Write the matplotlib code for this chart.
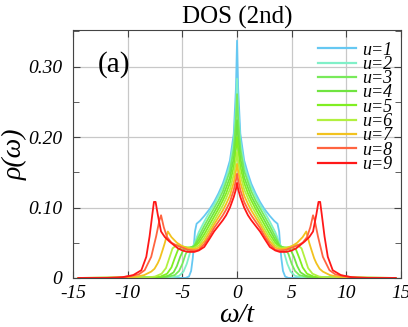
import numpy as np
import matplotlib
matplotlib.use("Agg")
import matplotlib.pyplot as plt
from matplotlib.ticker import MultipleLocator, FuncFormatter

plt.rcParams['font.family'] = ['Liberation Serif', 'DejaVu Serif']
plt.rcParams['font.style'] = 'italic'
plt.rcParams['axes.unicode_minus'] = False

# DOS is symmetric in omega, so only the omega >= 0 half is listed
w_u1 = [0, 0.1, 0.3, 0.65, 1.0, 1.3, 1.7, 2.1, 2.5, 3.0, 3.4, 3.7, 3.85, 3.95, 4.05, 4.2, 4.4, 4.7, 14.5]
rho_u1 = [0.337, 0.27, 0.205, 0.167, 0.148, 0.134, 0.120, 0.108, 0.098, 0.088, 0.081, 0.077,
          0.066, 0.045, 0.028, 0.010, 0.002, 0.0, 0.0]

# shared inner grid for u=2..9
w_inner = [0, 0.1, 0.3, 0.65, 1.0, 1.3, 1.7, 2.1, 2.5, 3.0, 3.5, 3.9]
rho_inner = {
    2: [0.283, 0.240, 0.194, 0.160, 0.142, 0.129, 0.116, 0.104, 0.094, 0.080, 0.065, 0.049],
    3: [0.261, 0.225, 0.183, 0.152, 0.136, 0.123, 0.110, 0.099, 0.088, 0.074, 0.059, 0.046],
    4: [0.224, 0.200, 0.170, 0.143, 0.128, 0.116, 0.104, 0.093, 0.082, 0.068, 0.054, 0.045],
    5: [0.200, 0.183, 0.158, 0.135, 0.120, 0.110, 0.098, 0.087, 0.076, 0.062, 0.050, 0.044],
    6: [0.179, 0.166, 0.147, 0.126, 0.113, 0.103, 0.092, 0.081, 0.070, 0.057, 0.046, 0.043],
    7: [0.162, 0.152, 0.136, 0.117, 0.105, 0.096, 0.086, 0.076, 0.065, 0.052, 0.043, 0.041],
    8: [0.148, 0.139, 0.125, 0.108, 0.097, 0.089, 0.080, 0.071, 0.060, 0.048, 0.040, 0.039],
    9: [0.135, 0.126, 0.115, 0.100, 0.089, 0.082, 0.074, 0.066, 0.056, 0.044, 0.039, 0.037],
}
# outer part (band edge / Hubbard-like peaks) for u=2..9
w_outer = {
    2: [4.0, 4.3, 4.6, 4.9, 5.3, 6.0, 14.5],
    3: [4.0, 4.4, 4.7, 5.0, 5.3, 5.7, 6.5, 14.5],
    4: [4.0, 4.5, 4.9, 5.2, 5.5, 5.8, 6.3, 7.0, 14.5],
    5: [4.0, 4.5, 5.0, 5.4, 5.7, 6.0, 6.4, 7.0, 8.0, 14.5],
    6: [4.0, 4.5, 5.0, 5.5, 5.9, 6.2, 6.5, 6.9, 7.5, 8.5, 14.5],
    7: [4.0, 4.5, 5.0, 5.5, 6.0, 6.33, 6.6, 6.8, 7.05, 7.25, 7.55, 7.85, 8.5, 9.5, 14.5],
    8: [4.0, 4.5, 5.0, 5.5, 6.0, 6.4, 6.7, 6.95, 7.1, 7.4, 7.85, 8.45, 9.0, 10.0, 11.0, 14.5],
    9: [4.0, 4.5, 5.0, 5.4, 6.2, 6.6, 6.95, 7.25, 7.45, 7.6, 7.75, 8.0, 8.3, 8.75, 9.5, 10.5, 12.0, 14.5],
}
rho_outer = {
    2: [0.046, 0.036, 0.020, 0.009, 0.003, 0.0005, 0.0],
    3: [0.045, 0.042, 0.034, 0.020, 0.010, 0.004, 0.001, 0.0],
    4: [0.044, 0.043, 0.040, 0.030, 0.017, 0.008, 0.003, 0.001, 0.0],
    5: [0.043, 0.043, 0.044, 0.040, 0.028, 0.015, 0.006, 0.002, 0.0, 0.0],
    6: [0.042, 0.043, 0.045, 0.047, 0.042, 0.028, 0.014, 0.006, 0.002, 0.0, 0.0],
    7: [0.041, 0.042, 0.045, 0.050, 0.058, 0.066, 0.050, 0.040, 0.028, 0.021, 0.013, 0.009, 0.004, 0.001, 0.0],
    8: [0.039, 0.040, 0.043, 0.046, 0.050, 0.058, 0.072, 0.089, 0.082, 0.059, 0.030, 0.011, 0.005, 0.002, 0.0, 0.0],
    9: [0.037, 0.037, 0.039, 0.042, 0.052, 0.058, 0.066, 0.090, 0.108, 0.108, 0.090, 0.059, 0.030,
        0.011, 0.004, 0.001, 0.0, 0.0],
}

colors = ['#66c8f2', '#80f0c8', '#78ea5a', '#70e440', '#80ee22', '#b2f040', '#f2c21e', '#ff6440', '#ff1818']
labels = ['u=%d' % u for u in range(1, 10)]


def mirror(w, r):
    w = np.asarray(w)
    r = np.asarray(r)
    return np.concatenate([-w[::-1], w[1:]]), np.concatenate([r[::-1], r[1:]])


fig = plt.figure(figsize=(4.08, 3.27), dpi=100)
ax = fig.add_axes([0.179, 0.150, 0.804, 0.758])

curves = [(w_u1, rho_u1)]
for u in range(2, 10):
    curves.append((w_inner + w_outer[u], rho_inner[u] + rho_outer[u]))

for (w, r), c, lab in zip(curves, colors, labels):
    xs, ys = mirror(w, r)
    ax.plot(xs, ys, color=c, lw=1.3, label=lab)

ax.set_xlim(-15, 15)
ax.set_ylim(0, 0.352)
ax.xaxis.set_major_locator(MultipleLocator(5))
ax.yaxis.set_major_locator(MultipleLocator(0.1))
ax.yaxis.set_minor_locator(MultipleLocator(0.05))
ax.yaxis.set_major_formatter(FuncFormatter(lambda v, p: '0' if abs(v) < 1e-9 else '%.2f' % v))
ax.tick_params(which='both', direction='in', top=True, right=True, color='#444444')
ax.tick_params(which='major', length=5, labelsize=14)
ax.tick_params(axis='y', which='major', pad=8)
ax.tick_params(axis='x', which='major', pad=5)
ax.tick_params(which='minor', length=4)
ax.grid(True, color='#c8c8c8', lw=0.9)
for s in ax.spines.values():
    s.set_color('#444444')

ax.set_title('DOS (2nd)', fontsize=18, style='normal', pad=5)
ax.set_xlabel('ω/t', fontsize=20, labelpad=1)
ax.set_ylabel('ρ(ω)', fontsize=20, labelpad=0)
ax.text(0.125, 0.863, '(a)', transform=ax.transAxes, fontsize=21, style='normal',
        ha='center', va='center')

leg = ax.legend(loc='upper right', bbox_to_anchor=(1.0, 0.99), frameon=False, fontsize=13,
                handlelength=2.1, handletextpad=0.35, labelspacing=-0.15, borderaxespad=0.1)
for h in leg.get_lines():
    h.set_linewidth(1.6)

fig.savefig('out.png', dpi=100)
